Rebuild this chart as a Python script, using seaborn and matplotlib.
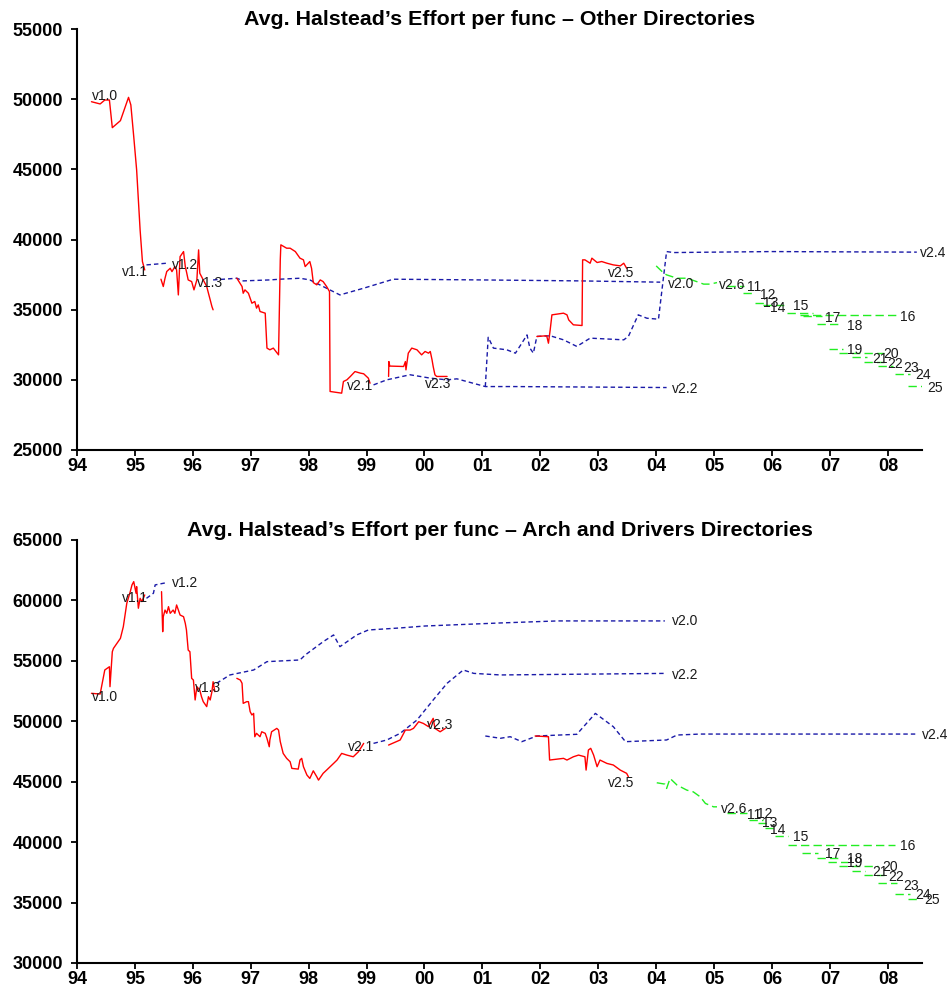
import matplotlib
matplotlib.use("Agg")
import matplotlib.pyplot as plt
import pandas as pd
import seaborn as sns

sns.set_theme(style="ticks")
plt.rcParams["font.family"] = ["Liberation Sans", "DejaVu Sans"]

# ---------------------------------------------------------------- axes labels
YEAR_TICKS = list(range(94, 109))
YEAR_LABELS = ["94", "95", "96", "97", "98", "99", "00", "01", "02",
               "03", "04", "05", "06", "07", "08"]
MINOR_NAMES = ["11", "12", "13", "14", "15", "16", "17", "18", "19",
               "20", "21", "22", "23", "24", "25"]
RELEASE_NAMES = ["v1.0", "v1.1", "v1.2", "v1.3", "v2.0", "v2.1",
                 "v2.2", "v2.3", "v2.4", "v2.5", "v2.6"]

# ================================================================ Other dirs
top_dev_10_x = [94.25, 94.40, 94.48, 94.56, 94.61, 94.75, 94.89, 94.93, 94.98,
                95.03, 95.09, 95.13, 95.17]
top_dev_10_y = [49820, 49660, 49940, 49940, 47970, 48470, 50130, 49590, 47330,
                44960, 40680, 38430, 37830]

top_dev_11_x = [95.45, 95.49, 95.52, 95.55, 95.61, 95.64, 95.69, 95.72, 95.75,
                95.78, 95.84, 95.87, 95.89, 95.92, 95.98, 96.02, 96.07, 96.10,
                96.12, 96.18, 96.24, 96.27, 96.30, 96.33, 96.35]
top_dev_11_y = [37170, 36650, 37240, 37720, 37950, 37710, 38070, 37830, 36050,
                38780, 39140, 38070, 37710, 37120, 37000, 36410, 37120, 39260,
                37600, 37120, 36650, 36170, 35700, 35220, 34990]

top_dev_13_x = [96.76, 96.85, 96.87, 96.90, 96.96, 97.02, 97.07, 97.10, 97.13,
                97.16, 97.25, 97.28, 97.33, 97.39, 97.48, 97.51, 97.52, 97.62,
                97.68, 97.77, 97.85, 97.91, 97.94, 98.02, 98.05, 98.08, 98.14,
                98.20, 98.25, 98.31, 98.36, 98.37, 98.57, 98.60, 98.66, 98.72,
                98.80, 98.89, 98.95, 99.03, 99.06]
top_dev_13_y = [37240, 36650, 36170, 36410, 36170, 35460, 35580, 35110, 35340,
                34870, 34750, 32260, 32140, 32260, 31780, 38550, 39620, 39380,
                39380, 39140, 38670, 38550, 38070, 38430, 37950, 36930, 36770,
                37120, 37000, 36650, 36290, 29170, 29050, 29880, 30000, 30240,
                30590, 30480, 30430, 30120, 29760]

top_dev_23_x = [99.38, 99.385, 99.40, 99.64, 99.67, 99.68, 99.72, 99.78, 99.87,
                99.95, 100.01, 100.07, 100.10, 100.13, 100.15, 100.18, 100.21,
                100.39]
top_dev_23_y = [30240, 31300, 30980, 30950, 31300, 30710, 31900, 32260, 32140,
                31780, 32020, 31900, 32020, 31430, 30950, 30360, 30240, 30240]

top_dev_25_x = [101.94, 102.11, 102.14, 102.17, 102.20, 102.40, 102.46, 102.49,
                102.57, 102.72, 102.73, 102.77, 102.86, 102.89, 102.98, 103.06,
                103.15, 103.26, 103.38, 103.44, 103.49]
top_dev_25_y = [33090, 33140, 32610, 33560, 34630, 34750, 34630, 34270, 33920,
                33870, 38550, 38550, 38310, 38670, 38360, 38430, 38310, 38190,
                38120, 38310, 37950]

top_stable_12_x = [95.20, 95.55]
top_stable_12_y = [38190, 38310]

top_stable_20_x = [96.35, 96.53, 96.76, 96.87, 97.33, 97.50, 97.85, 98.02,
                   98.25, 98.54, 98.95, 99.46, 100.96, 102.69, 104.07]
top_stable_20_y = [37120, 37170, 37240, 37050, 37120, 37170, 37240, 37120,
                   36650, 36050, 36530, 37170, 37120, 37050, 36960]

top_stable_22_x = [99.12, 99.35, 99.75, 100.10, 100.39, 100.56, 100.73, 101.05,
                   101.54, 104.18]
top_stable_22_y = [29640, 30000, 30360, 30120, 30000, 30070, 29880, 29520,
                   29520, 29450]

top_stable_24_x = [101.05, 101.10, 101.19, 101.42, 101.57, 101.68, 101.77,
                   101.82, 101.88, 101.94, 102.17, 102.40, 102.63, 102.86,
                   103.44, 103.52, 103.69, 103.84, 104.04, 104.10, 104.18,
                   104.30, 105.00, 106.00, 108.50]
top_stable_24_y = [29520, 33030, 32260, 32140, 31900, 32610, 33200, 32260,
                   31900, 33090, 33140, 32850, 32380, 32970, 32850, 33090,
                   34630, 34390, 34320, 36410, 39140, 39070, 39100, 39140,
                   39100]

top_26_x = [104.00, 104.13, 104.18, 104.36, 104.53, 104.70, 104.82, 104.93,
            105.05]
top_26_y = [38120, 37600, 37480, 37240, 37240, 37000, 36820, 36820, 36930]

top_minor_start = [105.22, 105.50, 105.71, 105.85, 106.26, 106.49, 106.54,
                   106.78, 106.98, 107.15, 107.38, 107.58, 107.83, 108.13,
                   108.35]
top_minor_end = [105.51, 105.68, 105.91, 106.28, 106.71, 108.16, 106.87,
                 107.18, 107.23, 107.93, 107.64, 107.93, 108.09, 108.39,
                 108.59]
top_minor_value = [36700, 36160, 35480, 35300, 34740, 34630, 34560, 33950,
                   32210, 31900, 31620, 31240, 30950, 30410, 29530]

# release label anchors (left edge, vertical centre)
top_release_x = [94.26, 94.78, 95.64, 96.07, 104.21, 98.66, 104.28, 100.01,
                 108.56, 103.17, 105.09]
top_release_y = [50230, 37690, 38190, 36910, 36840, 29570, 29360, 29710,
                 39040, 37620, 36770]
top_minor_lx = [105.57, 105.80, 105.85, 105.97, 106.37, 108.21, 106.92, 107.30,
                107.30, 107.92, 107.73, 107.99, 108.27, 108.47, 108.68]
top_minor_ly = [36620, 36050, 35480, 35130, 35270, 34490, 34420, 33850, 32140,
                31850, 31500, 31140, 30850, 30360, 29430]

# ======================================================= Arch and Drivers dirs
bot_dev_10_x = [94.25, 94.40, 94.48, 94.56, 94.57, 94.61, 94.63, 94.75, 94.80,
                94.86, 94.92, 94.95, 94.98, 95.02, 95.03, 95.06, 95.09, 95.12,
                95.17]
bot_dev_10_y = [52310, 52250, 54240, 54510, 52860, 55750, 56030, 56860, 57820,
                59760, 60720, 61280, 61550, 60590, 61140, 59350, 60170, 59900,
                60450]

bot_dev_11_x = [95.46, 95.48, 95.49, 95.52, 95.55, 95.58, 95.61, 95.66, 95.69,
                95.72, 95.78, 95.84, 95.87, 95.89, 95.92, 95.95, 95.98, 96.01,
                96.04, 96.07, 96.12, 96.15, 96.18, 96.24, 96.27, 96.30, 96.33,
                96.35, 96.38]
bot_dev_11_y = [60720, 57410, 58650, 59200, 58930, 59480, 58930, 59200, 58930,
                59620, 58790, 58650, 58100, 57550, 55890, 55750, 53550, 53410,
                51760, 52860, 52580, 52030, 51620, 51210, 52030, 51760, 52450,
                53270, 52450]

bot_dev_13_x = [96.76, 96.82, 96.85, 96.87, 96.93, 96.96, 96.99, 97.02, 97.05,
                97.07, 97.10, 97.16, 97.19, 97.25, 97.28, 97.32, 97.33, 97.36,
                97.45, 97.48, 97.51, 97.56, 97.62, 97.68, 97.71, 97.82, 97.85,
                97.88, 97.91, 97.97, 98.02, 98.08, 98.14, 98.17, 98.25, 98.31,
                98.43, 98.49, 98.57, 98.66, 98.77, 98.86, 98.95]
bot_dev_13_y = [53550, 53410, 53140, 51480, 51620, 51620, 50790, 50520, 50650,
                48720, 49000, 48720, 49130, 49000, 48590, 47890, 48450, 49130,
                49410, 49270, 48310, 47340, 46930, 46650, 46100, 46040, 46790,
                46930, 46240, 45550, 45270, 45900, 45410, 45130, 45690, 45960,
                46510, 46790, 47340, 47200, 47060, 47480, 48170]

bot_dev_23_x = [99.38, 99.58, 99.67, 99.75, 99.81, 99.90, 99.98, 100.07,
                100.15, 100.18, 100.27, 100.36]
bot_dev_23_y = [48030, 48450, 49270, 49270, 49410, 49960, 49820, 49550,
                50240, 49410, 49130, 49410]

bot_dev_25_x = [101.91, 102.14, 102.16, 102.40, 102.46, 102.57, 102.66, 102.77,
                102.79, 102.83, 102.87, 102.92, 102.98, 103.03, 103.15, 103.26,
                103.38, 103.49, 103.52]
bot_dev_25_y = [48780, 48720, 46790, 46930, 46790, 47060, 47200, 47060, 45960,
                47620, 47760, 47200, 46240, 46790, 46510, 46380, 45960, 45690,
                45410]

bot_stable_12_x = [95.20, 95.32, 95.35, 95.55]
bot_stable_12_y = [60170, 60590, 61280, 61470]

bot_stable_20_x = [96.41, 96.64, 97.05, 97.28, 97.85, 97.94, 98.25, 98.43,
                   98.54, 98.83, 99.03, 99.58, 100.01, 101.30, 102.30, 104.15]
bot_stable_20_y = [53140, 53830, 54240, 54930, 55070, 55480, 56580, 57140,
                   56170, 57140, 57550, 57720, 57880, 58130, 58300, 58300]

bot_stable_22_x = [99.12, 99.35, 99.58, 99.87, 100.15, 100.39, 100.67, 100.85,
                   101.31, 104.18]
bot_stable_22_y = [48170, 48450, 49000, 50100, 51760, 53140, 54240, 53960,
                   53830, 53960]

bot_stable_24_x = [101.05, 101.31, 101.48, 101.68, 101.94, 102.63, 102.95,
                   103.26, 103.47, 104.18, 104.36, 104.76, 108.50]
bot_stable_24_y = [48780, 48590, 48720, 48310, 48780, 48920, 50650, 49550,
                   48310, 48450, 48860, 48940, 48940]

bot_26_x = [104.01, 104.15, 104.18, 104.24, 104.36, 104.53, 104.64, 104.76,
            104.85, 104.99, 105.05]
bot_26_y = [44910, 44800, 44440, 45270, 44720, 44300, 44160, 43750, 43200,
            42920, 42920]

bot_minor_start = [105.22, 105.60, 105.75, 105.88, 106.06, 106.28, 106.52,
                   106.78, 106.97, 107.15, 107.38, 107.58, 107.83, 108.13,
                   108.35]
bot_minor_end = [105.57, 105.85, 105.95, 106.09, 106.28, 108.13, 106.80,
                 107.18, 107.32, 107.83, 107.61, 107.93, 108.16, 108.39,
                 108.56]
bot_minor_value = [42370, 41830, 41600, 41140, 40510, 39760, 39130, 38660,
                   38380, 38030, 37640, 37280, 36590, 35700, 35270]

bot_release_x = [94.26, 94.78, 95.64, 96.04, 104.28, 98.68, 104.28, 100.04,
                 108.59, 103.17, 105.11]
bot_release_y = [52010, 60230, 61420, 52780, 58300, 47900, 53830, 49690,
                 48870, 44920, 42720]
bot_minor_lx = [105.57, 105.74, 105.83, 105.97, 106.37, 108.21, 106.92, 107.30,
                107.30, 107.90, 107.73, 108.01, 108.27, 108.47, 108.62]
bot_minor_ly = [42250, 42330, 41610, 41000, 40400, 39680, 39020, 38580, 38300,
                37970, 37500, 37140, 36370, 35630, 35210]

# ---------------------------------------------------------------- styling
RED = "#ff0000"
BLUE = "#1a1aa8"
GREEN = "#22ee22"
BLUE_DASH = (0, (3.2, 2.2))
GREEN_DASH = (0, (6.0, 3.0))
TEXT = "#1a1a1a"


def series(ax, x, y, color, ls, lw=1.0):
    frame = pd.DataFrame({"x": x, "y": y})
    sns.lineplot(data=frame, x="x", y="y", ax=ax, color=color, linestyle=ls,
                 linewidth=lw, estimator=None, sort=False, legend=False)


def draw_panel(ax, title, ylim, dev, stable, new_dev, minor, rel, minor_lab):
    for x, y in stable:
        series(ax, x, y, BLUE, BLUE_DASH)
    for x, y in dev:
        series(ax, x, y, RED, "-")
    series(ax, new_dev[0], new_dev[1], GREEN, GREEN_DASH)
    starts, ends, values = minor
    for s, e, v in zip(starts, ends, values):
        series(ax, [s, e], [v, v], GREEN, GREEN_DASH)

    for name, x, y in zip(RELEASE_NAMES, rel[0], rel[1]):
        ax.text(x, y, name, ha="left", va="center", fontsize=10,
                color=TEXT, clip_on=False)
    for name, x, y in zip(MINOR_NAMES, minor_lab[0], minor_lab[1]):
        ax.text(x, y, name, ha="left", va="center", fontsize=10,
                color=TEXT, clip_on=False)

    ax.set_xlim(94, 108.59)
    ax.set_ylim(*ylim)
    ax.set_xticks(YEAR_TICKS)
    ax.set_xticklabels(YEAR_LABELS)
    ax.set_yticks(range(ylim[0], ylim[1] + 1, 5000))
    ax.set_xlabel("")
    ax.set_ylabel("")
    ax.set_title(title, fontsize=15.4, fontweight="bold", color="black", pad=3)
    for side in ("top", "right"):
        ax.spines[side].set_visible(False)
    for side in ("left", "bottom"):
        ax.spines[side].set_linewidth(1.5)
        ax.spines[side].set_color("black")
    ax.tick_params(axis="both", length=4, width=1.3, color="black",
                   labelsize=13, labelcolor="black")
    ax.tick_params(axis="x", pad=2)
    ax.tick_params(axis="y", pad=6)
    for lab in ax.get_xticklabels() + ax.get_yticklabels():
        lab.set_fontweight("bold")


fig = plt.figure(figsize=(9.48, 9.94), dpi=100)
ax_top = fig.add_axes([0.0812, 0.5473, 0.8914, 0.4235])
ax_bot = fig.add_axes([0.0812, 0.0312, 0.8914, 0.4256])

draw_panel(
    ax_top, "Avg. Halstead\u2019s Effort per func \u2013 Other Directories",
    (25000, 55000),
    dev=[(top_dev_10_x, top_dev_10_y), (top_dev_11_x, top_dev_11_y),
         (top_dev_13_x, top_dev_13_y), (top_dev_23_x, top_dev_23_y),
         (top_dev_25_x, top_dev_25_y)],
    stable=[(top_stable_12_x, top_stable_12_y),
            (top_stable_20_x, top_stable_20_y),
            (top_stable_22_x, top_stable_22_y),
            (top_stable_24_x, top_stable_24_y)],
    new_dev=(top_26_x, top_26_y),
    minor=(top_minor_start, top_minor_end, top_minor_value),
    rel=(top_release_x, top_release_y),
    minor_lab=(top_minor_lx, top_minor_ly),
)

draw_panel(
    ax_bot,
    "Avg. Halstead\u2019s Effort per func \u2013 Arch and Drivers Directories",
    (30000, 65000),
    dev=[(bot_dev_10_x, bot_dev_10_y), (bot_dev_11_x, bot_dev_11_y),
         (bot_dev_13_x, bot_dev_13_y), (bot_dev_23_x, bot_dev_23_y),
         (bot_dev_25_x, bot_dev_25_y)],
    stable=[(bot_stable_12_x, bot_stable_12_y),
            (bot_stable_20_x, bot_stable_20_y),
            (bot_stable_22_x, bot_stable_22_y),
            (bot_stable_24_x, bot_stable_24_y)],
    new_dev=(bot_26_x, bot_26_y),
    minor=(bot_minor_start, bot_minor_end, bot_minor_value),
    rel=(bot_release_x, bot_release_y),
    minor_lab=(bot_minor_lx, bot_minor_ly),
)

fig.savefig("out.png", dpi=100, facecolor="white")
